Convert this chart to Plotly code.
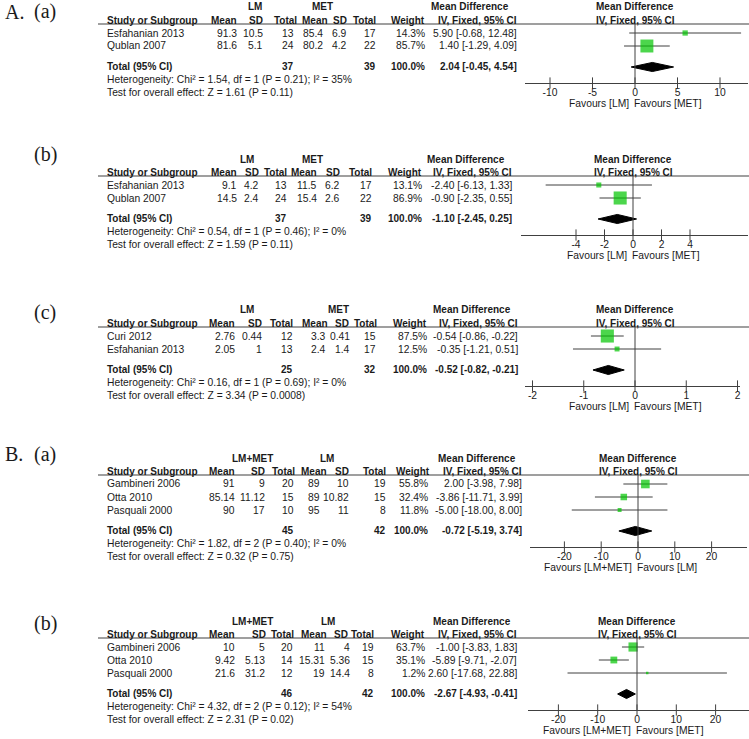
import math
import plotly.graph_objects as go

W, H = 749, 739

# ======================= DATA =======================
# ---- Panel A(a) ----
Aa_studies = ["Esfahanian 2013", "Qublan 2007"]
Aa_g1_mean = [91.3, 81.6]
Aa_g1_sd = [10.5, 5.1]
Aa_g1_n = [13, 24]
Aa_g2_mean = [85.4, 80.2]
Aa_g2_sd = [6.9, 4.2]
Aa_g2_n = [17, 22]
Aa_weight = [14.3, 85.7]
Aa_md = [5.90, 1.40]
Aa_lo = [-0.68, -1.29]
Aa_hi = [12.48, 4.09]
Aa_total_n = [37, 39]
Aa_total_ci = [2.04, -0.45, 4.54]
Aa_het = "Heterogeneity: Chi² = 1.54, df = 1 (P = 0.21); I² = 35%"
Aa_test = "Test for overall effect: Z = 1.61 (P = 0.11)"
Aa_groups = ["LM", "MET"]
Aa_favours = ["Favours [LM]", "Favours [MET]"]
Aa_ticks = [-10, -5, 0, 5, 10]

# ---- Panel A(b) ----
Ab_studies = ["Esfahanian 2013", "Qublan 2007"]
Ab_g1_mean = [9.1, 14.5]
Ab_g1_sd = [4.2, 2.4]
Ab_g1_n = [13, 24]
Ab_g2_mean = [11.5, 15.4]
Ab_g2_sd = [6.2, 2.6]
Ab_g2_n = [17, 22]
Ab_weight = [13.1, 86.9]
Ab_md = [-2.40, -0.90]
Ab_lo = [-6.13, -2.35]
Ab_hi = [1.33, 0.55]
Ab_total_n = [37, 39]
Ab_total_ci = [-1.10, -2.45, 0.25]
Ab_het = "Heterogeneity: Chi² = 0.54, df = 1 (P = 0.46); I² = 0%"
Ab_test = "Test for overall effect: Z = 1.59 (P = 0.11)"
Ab_groups = ["LM", "MET"]
Ab_favours = ["Favours [LM]", "Favours [MET]"]
Ab_ticks = [-4, -2, 0, 2, 4]

# ---- Panel A(c) ----
Ac_studies = ["Curi 2012", "Esfahanian 2013"]
Ac_g1_mean = [2.76, 2.05]
Ac_g1_sd = [0.44, 1]
Ac_g1_n = [12, 13]
Ac_g2_mean = [3.3, 2.4]
Ac_g2_sd = [0.41, 1.4]
Ac_g2_n = [15, 17]
Ac_weight = [87.5, 12.5]
Ac_md = [-0.54, -0.35]
Ac_lo = [-0.86, -1.21]
Ac_hi = [-0.22, 0.51]
Ac_total_n = [25, 32]
Ac_total_ci = [-0.52, -0.82, -0.21]
Ac_het = "Heterogeneity: Chi² = 0.16, df = 1 (P = 0.69); I² = 0%"
Ac_test = "Test for overall effect: Z = 3.34 (P = 0.0008)"
Ac_groups = ["LM", "MET"]
Ac_favours = ["Favours [LM]", "Favours [MET]"]
Ac_ticks = [-2, -1, 0, 1, 2]

# ---- Panel B(a) ----
Ba_studies = ["Gambineri 2006", "Otta 2010", "Pasquali 2000"]
Ba_g1_mean = [91, 85.14, 90]
Ba_g1_sd = [9, 11.12, 17]
Ba_g1_n = [20, 15, 10]
Ba_g2_mean = [89, 89, 95]
Ba_g2_sd = [10, 10.82, 11]
Ba_g2_n = [19, 15, 8]
Ba_weight = [55.8, 32.4, 11.8]
Ba_md = [2.00, -3.86, -5.00]
Ba_lo = [-3.98, -11.71, -18.00]
Ba_hi = [7.98, 3.99, 8.00]
Ba_total_n = [45, 42]
Ba_total_ci = [-0.72, -5.19, 3.74]
Ba_het = "Heterogeneity: Chi² = 1.82, df = 2 (P = 0.40); I² = 0%"
Ba_test = "Test for overall effect: Z = 0.32 (P = 0.75)"
Ba_groups = ["LM+MET", "LM"]
Ba_favours = ["Favours [LM+MET]", "Favours [LM]"]
Ba_ticks = [-20, -10, 0, 10, 20]

# ---- Panel B(b) ----
Bb_studies = ["Gambineri 2006", "Otta 2010", "Pasquali 2000"]
Bb_g1_mean = [10, 9.42, 21.6]
Bb_g1_sd = [5, 5.13, 31.2]
Bb_g1_n = [20, 14, 12]
Bb_g2_mean = [11, 15.31, 19]
Bb_g2_sd = [4, 5.36, 14.4]
Bb_g2_n = [19, 15, 8]
Bb_weight = [63.7, 35.1, 1.2]
Bb_md = [-1.00, -5.89, 2.60]
Bb_lo = [-3.83, -9.71, -17.68]
Bb_hi = [1.83, -2.07, 22.88]
Bb_total_n = [46, 42]
Bb_total_ci = [-2.67, -4.93, -0.41]
Bb_het = "Heterogeneity: Chi² = 4.32, df = 2 (P = 0.12); I² = 54%"
Bb_test = "Test for overall effect: Z = 2.31 (P = 0.02)"
Bb_groups = ["LM+MET", "LM"]
Bb_favours = ["Favours [LM+MET]", "Favours [MET]"]
Bb_ticks = [-20, -10, 0, 10, 20]

panel_letters = ["A.", "", "", "B.", ""]
panel_subs = ["(a)", "(b)", "(c)", "(a)", "(b)"]
col_headers = ["Mean", "SD", "Total", "Mean", "SD", "Total", "Weight", "IV, Fixed, 95% CI"]


def make_panel(p):
    g = globals()
    return dict(
        studies=g[p + "_studies"], g1_mean=g[p + "_g1_mean"], g1_sd=g[p + "_g1_sd"],
        g1_n=g[p + "_g1_n"], g2_mean=g[p + "_g2_mean"], g2_sd=g[p + "_g2_sd"],
        g2_n=g[p + "_g2_n"], weight=g[p + "_weight"], md=g[p + "_md"], lo=g[p + "_lo"],
        hi=g[p + "_hi"], total_n=g[p + "_total_n"], total_ci=g[p + "_total_ci"],
        het=g[p + "_het"], test=g[p + "_test"], groups=g[p + "_groups"],
        favours=g[p + "_favours"], ticks=g[p + "_ticks"],
    )


panels = [make_panel(p) for p in ["Aa", "Ab", "Ac", "Ba", "Bb"]]

# ======================= STYLE (pixel layout) =======================
# hc: header right edges, vc: value right edges
styles = [
    dict(y0=7, lab=5, xl=525, xr=748, zero=635, scale=8.5, k=1.4,
         hc=[237, 263, 297, 328, 347, 376, 425, 517],
         vc=[237, 263, 294, 323, 347, 376, 425, 517], gc=[255, 322], mdc=470),
    dict(y0=159, lab=-5, xl=521, xr=748, zero=633, scale=14.25, k=1.4,
         hc=[237, 259, 287, 317, 340, 372, 422, 512],
         vc=[237, 259, 287, 317, 340, 372, 422, 512], gc=[247, 312], mdc=466),
    dict(y0=310, lab=2, xl=525, xr=740, zero=635, scale=51.25, k=1.4,
         hc=[235, 262, 293, 328, 349, 377, 427, 518],
         vc=[235, 262, 293, 326, 350, 376, 427, 518], gc=[247, 338], mdc=472),
    dict(y0=458, lab=-4, xl=530, xr=747, zero=638, scale=3.68, k=1.15,
         hc=[235, 265, 295, 327, 349, 386, 430, 522],
         vc=[235, 265, 294, 320, 349, 386, 428, 522], gc=[252, 327], mdc=477),
    dict(y0=621, lab=2, xl=528, xr=749, zero=637, scale=3.93, k=1.15,
         hc=[235, 266, 294, 327, 348, 374, 425, 517],
         vc=[235, 265, 293, 325, 350, 374, 425, 517], gc=[252, 328], mdc=472),
]

FONT = "Liberation Sans, Arial, sans-serif"
SERIF = "Liberation Serif, Times New Roman, serif"
TXT = "#1a1a1a"
LINE = "#404040"
GREEN = "#00c400"
REG = 10.3
BOLD = 10
STUDY_X = 107

fig = go.Figure()
annotations = []
shapes = []
layout = {}


def fmt(v):
    return f"{v:g}"


def ann(text, x, y, anchor="left", bold=False, size=None, family=FONT, xshift=0):
    """x, y in pixels from the top-left corner of the figure."""
    annotations.append(dict(
        text=f"<b>{text}</b>" if bold else text,
        x=x / W, xref="paper", y=1 - y / H, yref="paper",
        xanchor=anchor, yanchor="middle", showarrow=False, xshift=xshift,
        borderpad=0, borderwidth=0,
        font=dict(family=family, size=size or (BOLD if bold else REG), color=TXT),
    ))


for k, (P, S) in enumerate(zip(panels, styles), start=1):
    sfx = "" if k == 1 else str(k)
    xr_, yr_ = "x" + sfx, "y" + sfx
    n = len(P["studies"])
    i_total = n + 0.615
    i_axis = n + 1.846
    i_line = -0.692
    y0 = S["y0"]

    def pix(i):
        return y0 + 26 + 13 * i

    bottom, top = pix(i_axis), pix(i_line)
    layout["xaxis" + sfx] = dict(
        domain=[S["xl"] / W, S["xr"] / W],
        range=[(S["xl"] - S["zero"]) / S["scale"], (S["xr"] - S["zero"]) / S["scale"]],
        anchor=yr_, showline=True, linecolor=LINE, linewidth=1, ticks="",
        tickvals=P["ticks"], ticktext=[str(t) for t in P["ticks"]],
        tickfont=dict(family=FONT, size=REG, color=TXT),
        showgrid=False, zeroline=False, fixedrange=True,
    )
    layout["yaxis" + sfx] = dict(
        domain=[1 - bottom / H, 1 - top / H], range=[i_axis, i_line],
        anchor=xr_, visible=False, fixedrange=True,
    )

    # ----- table text -----
    hc, vc = S["hc"], S["vc"]
    ann(P["groups"][0], S["gc"][0], pix(-2), "center", bold=True)
    ann(P["groups"][1], S["gc"][1], pix(-2), "center", bold=True)
    ann("Mean Difference", S["mdc"], pix(-2), "center", bold=True)
    ann("Mean Difference", S["zero"], pix(-2), "center", bold=True)
    ann("Study or Subgroup", STUDY_X, pix(-1), "left", bold=True)
    for txt, xx in zip(col_headers, hc):
        ann(txt, xx, pix(-1), "right", bold=True)
    ann("IV, Fixed, 95% CI", S["zero"], pix(-1), "center", bold=True)

    for i in range(n):
        ann(P["studies"][i], STUDY_X, pix(i), "left")
        vals = [fmt(P["g1_mean"][i]), fmt(P["g1_sd"][i]), str(P["g1_n"][i]),
                fmt(P["g2_mean"][i]), fmt(P["g2_sd"][i]), str(P["g2_n"][i]),
                f"{P['weight'][i]:.1f}%",
                f"{P['md'][i]:.2f} [{P['lo'][i]:.2f}, {P['hi'][i]:.2f}]"]
        for txt, xx in zip(vals, vc):
            ann(txt, xx, pix(i), "right")

    tc = P["total_ci"]
    ann("Total (95% CI)", STUDY_X, pix(i_total), "left", bold=True)
    ann(str(P["total_n"][0]), vc[2], pix(i_total), "right", bold=True)
    ann(str(P["total_n"][1]), vc[5], pix(i_total), "right", bold=True)
    ann(f"{sum(P['weight']):.1f}%", vc[6], pix(i_total), "right", bold=True)
    ann(f"{tc[0]:.2f} [{tc[1]:.2f}, {tc[2]:.2f}]", vc[7], pix(i_total), "right", bold=True)
    ann(P["het"], STUDY_X, pix(i_total + 1), "left")
    ann(P["test"], STUDY_X, pix(i_total + 2), "left")

    ann(P["favours"][0], S["zero"] - 6, pix(n + 3.385), "right")
    ann(P["favours"][1], S["zero"] - 1, pix(n + 3.385), "left")

    # panel labels
    if panel_letters[k - 1]:
        ann(panel_letters[k - 1], 5, y0 + S["lab"], "left", size=20, family=SERIF)
    ann(panel_subs[k - 1], 34, y0 + S["lab"], "left", size=20, family=SERIF)

    # ----- rules -----
    shapes.append(dict(type="line", xref="paper", yref="paper", x0=98 / W, x1=1,
                       y0=1 - top / H, y1=1 - top / H, line=dict(color=LINE, width=1.2)))
    shapes.append(dict(type="line", xref=xr_, yref=yr_ + " domain", x0=0, x1=0,
                       y0=0, y1=1, line=dict(color=LINE, width=1)))

    # ----- CI lines -----
    lx, ly = [], []
    for i in range(n):
        lx += [P["lo"][i], P["hi"][i], None]
        ly += [i, i, None]
    fig.add_trace(go.Scatter(x=lx, y=ly, mode="lines", line=dict(color=LINE, width=1),
                             xaxis=xr_, yaxis=yr_, hoverinfo="skip", cliponaxis=False))
    # ----- squares -----
    fig.add_trace(go.Scatter(
        x=P["md"], y=list(range(n)), mode="markers",
        marker=dict(symbol="square", color=GREEN,
                    size=[max(2.5, S["k"] * math.sqrt(w)) for w in P["weight"]],
                    line=dict(width=0)),
        xaxis=xr_, yaxis=yr_, cliponaxis=False))
    # ----- diamond -----
    h = 0.35
    fig.add_trace(go.Scatter(
        x=[tc[1], tc[0], tc[2], tc[0], tc[1]],
        y=[i_total, i_total - h, i_total, i_total + h, i_total],
        mode="lines", fill="toself", fillcolor="black", line=dict(color="black", width=1),
        xaxis=xr_, yaxis=yr_, hoverinfo="skip"))
    # ----- crossing ticks -----
    fig.add_trace(go.Scatter(
        x=P["ticks"], y=[i_axis] * len(P["ticks"]), mode="markers",
        marker=dict(symbol="line-ns", size=8, line=dict(color=LINE, width=1)),
        xaxis=xr_, yaxis=yr_, cliponaxis=False, hoverinfo="skip"))

fig.update_layout(
    width=W, height=H, margin=dict(l=0, r=0, t=0, b=0),
    paper_bgcolor="white", plot_bgcolor="white", showlegend=False,
    annotations=annotations, shapes=shapes, **layout,
)
fig.write_html("out.html", config={"displayModeBar": False},
               post_script="document.body.style.margin='0px';document.body.style.overflow='hidden';")
